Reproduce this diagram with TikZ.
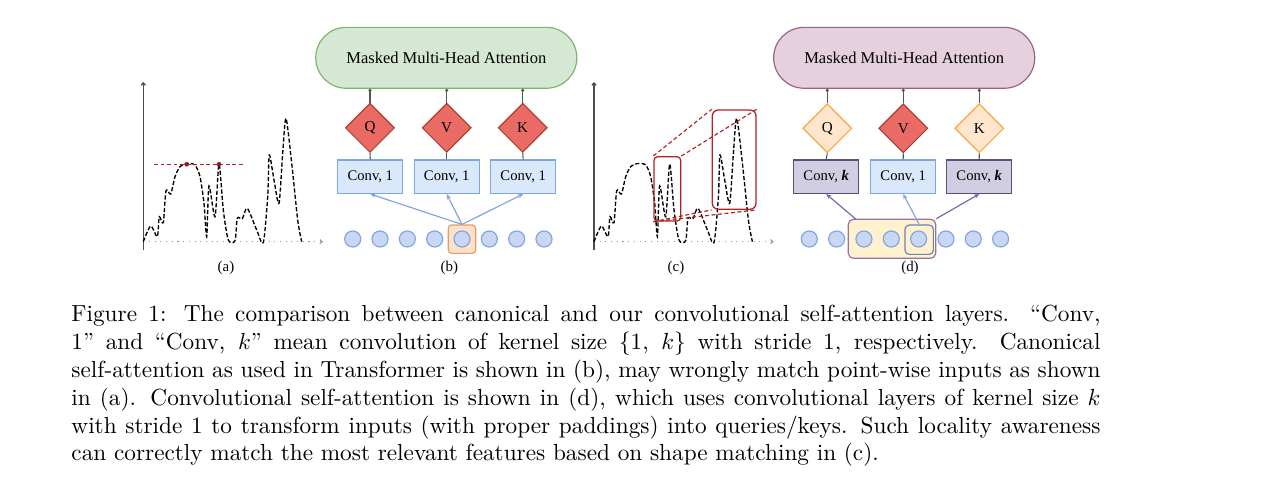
\documentclass[tikz,border=0pt]{standalone}
\usepackage{fontspec}
\newfontfamily\tnr{Liberation Serif}
\usetikzlibrary{shapes.geometric,shapes.misc,arrows.meta}
\definecolor{greenfill}{HTML}{D5E8D4}
\definecolor{greendraw}{HTML}{82B366}
\definecolor{pinkfill}{HTML}{E6D0DE}
\definecolor{pinkdraw}{HTML}{996185}
\definecolor{redfill}{HTML}{EA6B66}
\definecolor{reddraw}{HTML}{AE4132}
\definecolor{orfill}{HTML}{FFE6CC}
\definecolor{ordraw}{HTML}{FFA640}
\definecolor{bluefill}{HTML}{DAE8FC}
\definecolor{bluedraw}{HTML}{7EA6E0}
\definecolor{tokfill}{HTML}{C9D7F5}
\definecolor{purfill}{HTML}{D0CEE2}
\definecolor{purdraw}{HTML}{56517E}
\definecolor{yelfill}{HTML}{FFF2CC}
\definecolor{yeldraw}{HTML}{9673A6}
\definecolor{hlfill}{HTML}{FFE0C8}
\definecolor{hldraw}{HTML}{D8A070}
\definecolor{parrowc}{HTML}{7565B0}
\definecolor{connc}{HTML}{555555}
\definecolor{cred}{HTML}{B22222}
\begin{document}
\begin{tikzpicture}[x=0.4301pt,y=-0.4301pt,
  lbl/.style={font=\tnr\fontsize{6.4}{7}\selectfont, inner sep=0pt},
  headbox/.style={rounded rectangle, draw, line width=0.5pt, minimum width=112.3pt, minimum height=26.2pt, inner sep=0pt, font=\tnr\fontsize{7.1}{8}\selectfont},
  dia/.style={diamond, draw, line width=0.5pt, minimum width=21.1pt, minimum height=21.1pt, inner sep=0pt, aspect=1, font=\tnr\fontsize{6.5}{7}\selectfont},
  convbox/.style={rectangle, draw, line width=0.5pt, minimum width=27.9pt, minimum height=14.4pt, inner sep=0pt, font=\tnr\fontsize{6.3}{7}\selectfont},
  tok/.style={circle, draw=bluedraw, fill=tokfill, line width=0.5pt, minimum size=6.9pt, inner sep=0pt},
  conn/.style={draw=connc, line width=0.45pt},
  topconn/.style={conn, {Circle[open,length=1.3pt,width=1.3pt]}-},
  barrow/.style={draw=bluedraw, line width=0.5pt, -{Stealth[length=2.3pt,width=1.9pt]}},
  parrow/.style={draw=parrowc, line width=0.5pt, -{Stealth[length=2.3pt,width=1.9pt]}},
  reddash/.style={draw=cred, line width=0.5pt, dash pattern=on 1.7pt off 1.1pt},
  redbox/.style={draw=cred, line width=0.55pt, inner sep=0pt},
  reddot/.style={circle, fill=cred!85!black, inner sep=0pt, minimum size=2pt},
  axisline/.style={draw=black!70, line width=0.55pt, -{Straight Barb[length=1pt,width=1.8pt]}},
  xaxis/.style={draw=black!40, line width=0.45pt, dotted, -{Straight Barb[length=1pt,width=1.8pt]}},
  curvestyle/.style={draw=black, line width=0.58pt, dash pattern=on 1.8pt off 0.9pt},
  signal/.pic={
    \draw[axisline] (143.3,250) -- (143.3,82);
    \draw[xaxis] (143.3,241.7) -- (323,241.7);
    \draw[curvestyle] plot[smooth,tension=0.45] coordinates {
      (143.3,241.7) (150.7,226) (157.3,236.7) (159.3,216.7) (163.3,222.7)
      (166,190.7) (170.7,194) (175,176.7) (180,166.7) (187.3,163.5)
      (195,165) (200,176.7) (204,203.3) (206.7,236.7) (209,186)
      (215,216.7) (219,164) (223.3,210) (228.3,240) (235,240.7)
      (237.3,218.3) (242.3,218.7) (247.3,208.3) (256.7,230) (263.3,242.7)
      (267.7,196.7) (269.3,155) (274,180) (279,203.3) (282.7,153.3)
      (286,118.3) (291.7,163.3) (297.7,220) (301.7,241.7)};
  }
]
\useasboundingbox (0,0) rectangle (1263,490);
\fill[white] (0,0) rectangle (1263,490);

% ---------- panel (a)
\pic (sa) at (0,0) {signal};
\coordinate (ra) at (154,164.3);
\coordinate (rb) at (243.3,164.3);
\draw[reddash] (ra) -- (rb);
\node[reddot] (d1) at (186.7,164.3) {};
\node[reddot] (d2) at (219,164.3) {};
\node[lbl] (la) at (226,268.3) {(a)};

% ---------- panel (b)
\node[headbox, fill=greenfill, draw=greendraw] (hb) at (446.3,57.8) {Masked Multi-Head Attention};
\node[dia, fill=redfill, draw=reddraw] (bq) at (370,127.8) {Q};
\node[dia, fill=redfill, draw=reddraw] (bv) at (446.7,127.8) {V};
\node[dia, fill=redfill, draw=reddraw] (bk) at (522.7,127.8) {K};
\node[convbox, fill=bluefill, draw=bluedraw] (bcq) at (370.3,176.7) {Conv, 1};
\node[convbox, fill=bluefill, draw=bluedraw] (bcv) at (446.7,176.7) {Conv, 1};
\node[convbox, fill=bluefill, draw=bluedraw] (bck) at (523.2,176.7) {Conv, 1};
\foreach \n in {bq,bv,bk} \draw[topconn] (hb.south -| \n.north) -- (\n.north);
\draw[conn] (bq.south) -- (bcq.north);
\draw[conn] (bv.south) -- (bcv.north);
\draw[conn] (bk.south) -- (bck.north);
\node[draw=hldraw, fill=hlfill, line width=0.5pt, rounded corners=1.5pt, minimum width=11.8pt, minimum height=12.2pt, inner sep=0pt] (bh) at (462,239.2) {};
\foreach \i in {0,...,7} \node[tok] (bt\i) at ({352.7+27.33*\i},239) {};
\draw[barrow] (bh.north) -- (bcq.south);
\draw[barrow] (bh.north) -- (bcv.south);
\draw[barrow] (bh.north) -- (bck.south);
\node[lbl] (lb) at (449.3,268.3) {(b)};

% ---------- panel (c)
\pic (sc) at (450.7,0) {signal};
\node[redbox, rounded corners=1.6pt, minimum width=11.5pt, minimum height=27.7pt] (rs) at (667.35,188.85) {};
\node[redbox, rounded corners=2.6pt, minimum width=18.8pt, minimum height=42.7pt] (rl) at (734.15,159.65) {};
\draw[reddash] (rs.north west) -- (rl.north west);
\draw[reddash] (rs.north east) -- (rl.north east);
\draw[reddash] (rs.south west) -- (rl.south west);
\draw[reddash] (rs.south west) -- (rl.south east);
\node[lbl] (lc) at (676,268.3) {(c)};

% ---------- panel (d)
\node[headbox, fill=pinkfill, draw=pinkdraw] (hd) at (904.2,57.8) {Masked Multi-Head Attention};
\node[dia, fill=orfill, draw=ordraw] (dq) at (827.3,128.3) {Q};
\node[dia, fill=redfill, draw=reddraw] (dv) at (903.3,128.3) {V};
\node[dia, fill=orfill, draw=ordraw] (dk) at (979.3,128.3) {K};
\node[convbox, fill=purfill, draw=purdraw] (dcq) at (826.2,176.7) {Conv, \textbf{\textit{k}}};
\node[convbox, fill=bluefill, draw=bluedraw] (dcv) at (903.2,176.7) {Conv, 1};
\node[convbox, fill=purfill, draw=purdraw] (dck) at (979.2,176.7) {Conv, \textbf{\textit{k}}};
\foreach \n in {dq,dv,dk} \draw[topconn] (hd.south -| \n.north) -- (\n.north);
\draw[conn] (dq.south) -- (dcq.north);
\draw[conn] (dv.south) -- (dcv.north);
\draw[conn] (dk.south) -- (dck.north);
\node[draw=yeldraw, fill=yelfill, line width=0.5pt, rounded corners=2.2pt, minimum width=37.6pt, minimum height=16.8pt, inner sep=0pt] (dbig) at (892,238.8) {};
\foreach \i in {0,...,7} \node[tok] (dt\i) at ({809.3+27.33*\i},239) {};
\node[draw=bluedraw!80!black, line width=0.5pt, rounded corners=1.8pt, minimum width=12.2pt, minimum height=12.6pt, inner sep=0pt] (dinner) at (919.2,239.7) {};
\coordinate (dqa) at (856,219.3);
\draw[parrow] (dqa) -- (dcq.south);
\draw[parrow] (dbig.north east) -- (dck.south);
\draw[barrow] (dinner.north) -- (dcv.south);
\node[lbl] (ld) at (910,268.3) {(d)};

% ---------- caption
\node[anchor=north west, inner sep=0pt, text width=442.6pt, align=justify, font=\fontsize{10}{12}\selectfont] (cap) at (71,304.6) {\noindent Figure 1: The comparison between canonical and our convolutional self-attention layers. “Conv,\linebreak 1” and “Conv, $k$” mean convolution of kernel size $\{1$, $k\}$ with stride 1, respectively. Canonical\linebreak self-attention as used in Transformer is shown in (b), may wrongly match point-wise inputs as shown\linebreak in (a). Convolutional self-attention is shown in (d), which uses convolutional layers of kernel size $k$\linebreak with stride 1 to transform inputs (with proper paddings) into queries/keys. Such locality awareness\linebreak can correctly match the most relevant features based on shape matching in (c).};
\end{tikzpicture}
\end{document}
